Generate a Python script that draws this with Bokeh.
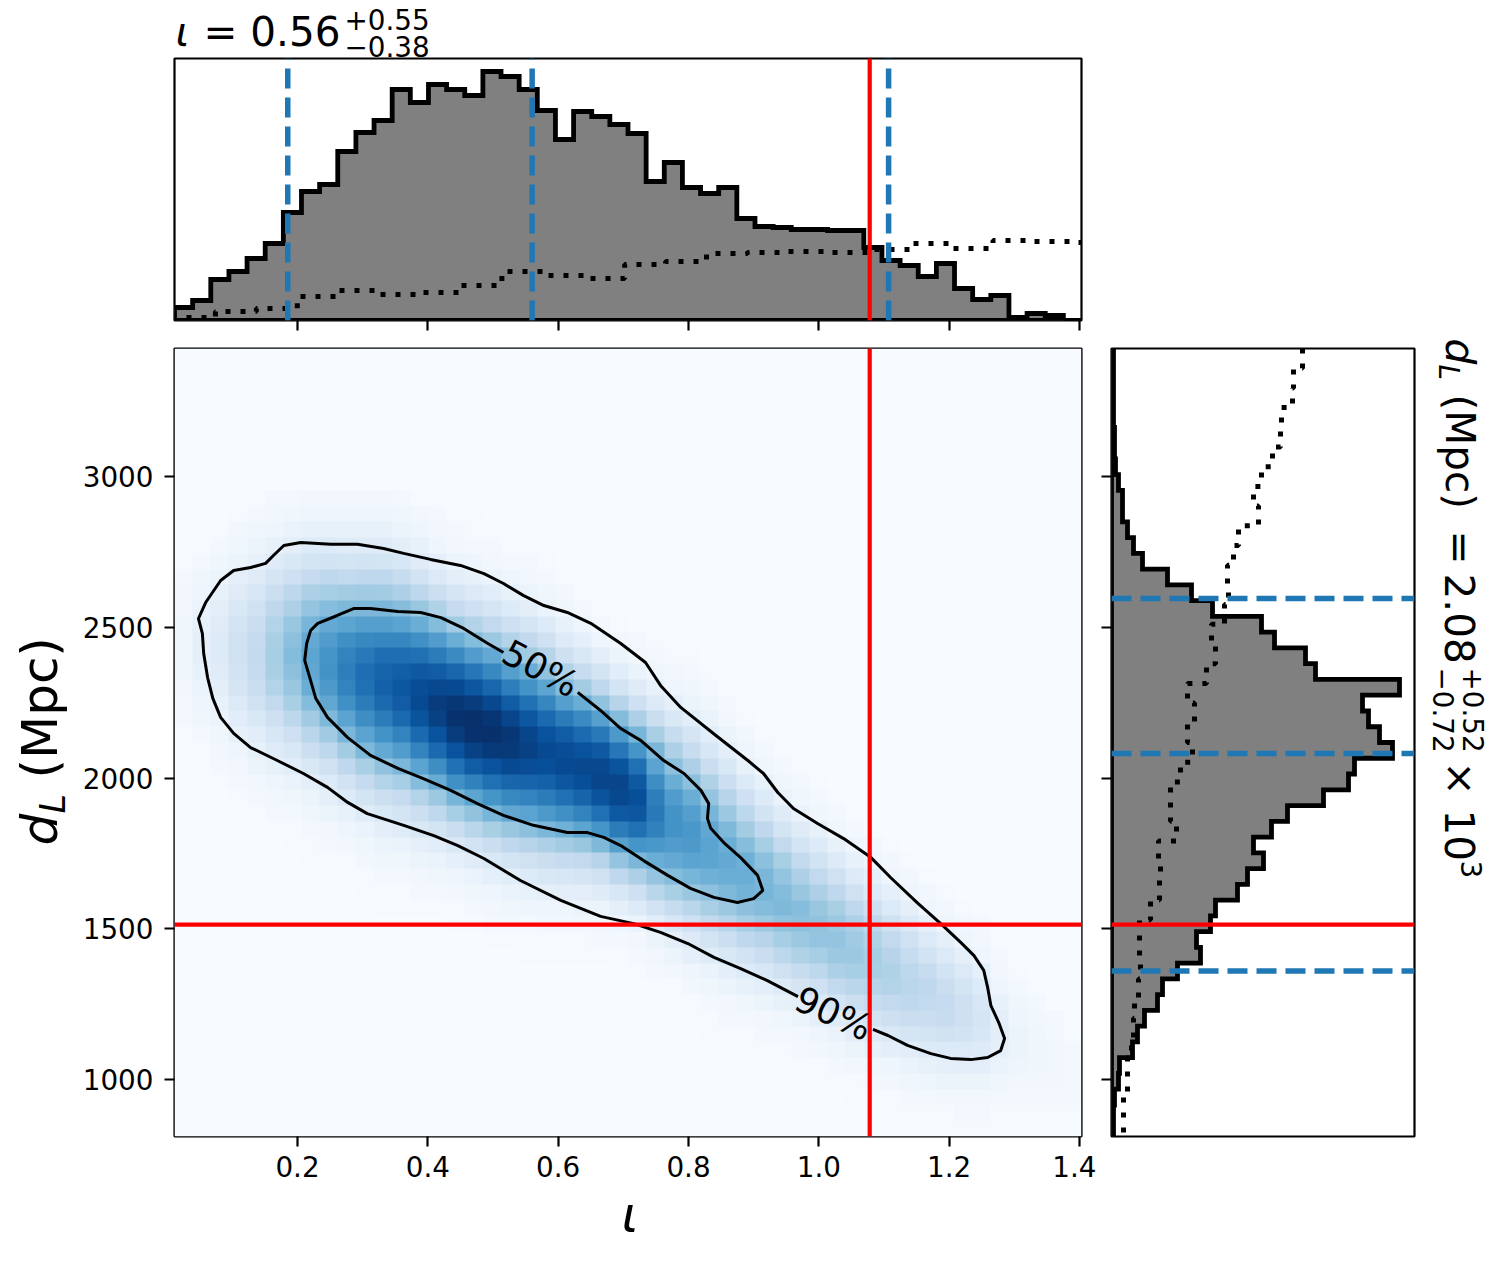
import numpy as np
from bokeh.embed import file_html
from bokeh.layouts import column, row
from bokeh.models import FixedTicker, Label, LinearColorMapper
from bokeh.palettes import Blues256
from bokeh.plotting import figure
from bokeh.resources import INLINE

# axis limits and ticks
iota_limits = (0.0112, 1.403)
dist_limits = (811.0, 3424.5)
iota_ticks = [0.2, 0.4, 0.6, 0.8, 1.0, 1.2, 1.4]
iota_tick_labels = ["0.2", "0.4", "0.6", "0.8", "1.0", "1.2", "1.4"]
dist_ticks = [1000, 1500, 2000, 2500, 3000]
dist_tick_labels = ["1000", "1500", "2000", "2500", "3000"]

# injected value and credible bounds
iota_true = 1.078
dist_true = 1514
iota_bounds = [0.185, 0.56, 1.107]
dist_bounds = [1360, 2081, 2595]

# iota histograms (heights)
iota_posterior = [13, 20, 41, 49, 62, 77, 108, 129, 136, 169, 188, 200, 231, 218, 236, 231, 225,
                  249, 244, 231, 210, 181, 209, 204, 196, 187, 139, 158, 133, 127, 133, 102, 94,
                  93, 91, 91, 90, 90, 73, 60, 55, 44, 57, 32, 21, 25, 3, 7, 5, 0]
iota_prior = [3, 9, 12, 24, 30, 26, 28, 35, 49, 45, 42, 56, 59, 67, 68, 69, 68, 71, 77, 72, 80, 79, 78]
iota_prior_width = 0.0628

# distance histograms, from the top of the axis downwards
dist_posterior = [2, 2, 2, 2, 2, 3, 3, 4, 7, 11, 11, 16, 22, 31, 56, 80, 101, 150, 163, 194, 204,
                  288, 251, 257, 268, 281, 243, 237, 212, 176, 160, 142, 152, 136, 126, 104, 99,
                  85, 89, 66, 51, 46, 33, 26, 21, 8, 7, 3, 2, 2]
dist_prior = [191, 182, 181, 170, 169, 161, 150, 142, 147, 127, 122, 116, 117, 113, 100, 104, 95,
              76, 83, 76, 81, 69, 59, 59, 65, 47, 49, 48, 39, 28, 28, 29, 27, 23, 22, 20, 16, 16, 12, 12]

# density map: (first row, values) per column, rows from the top of the axis downwards
density_rows = 50
density_columns = [
    (13, [1, 2, 3, 3, 4, 4, 4, 4, 3, 2, 2, 1, 1]),
    (12, [1, 2, 4, 5, 7, 8, 9, 9, 8, 7, 5, 4, 2, 1, 1]),
    (11, [1, 2, 4, 6, 8, 10, 12, 13, 13, 12, 10, 8, 6, 4, 3, 2, 1]),
    (10, [1, 3, 4, 6, 9, 12, 15, 18, 20, 20, 19, 17, 14, 11, 8, 5, 3, 2, 1]),
    (9, [1, 2, 4, 6, 8, 12, 16, 20, 23, 25, 26, 25, 23, 20, 15, 11, 8, 6, 3, 2, 1]),
    (9, [2, 3, 5, 8, 12, 17, 22, 27, 31, 34, 35, 34, 31, 26, 21, 16, 12, 8, 5, 3, 2, 1]),
    (9, [2, 4, 7, 10, 15, 21, 28, 33, 39, 42, 44, 42, 39, 34, 28, 21, 15, 11, 7, 4, 2, 1, 1]),
    (9, [3, 5, 8, 13, 18, 25, 33, 40, 47, 52, 54, 53, 50, 44, 37, 29, 22, 15, 10, 6, 4, 2, 1, 1]),
    (9, [3, 5, 8, 13, 19, 27, 35, 43, 52, 58, 61, 62, 59, 53, 45, 37, 28, 20, 14, 9, 6, 3, 2, 1]),
    (9, [3, 5, 8, 12, 18, 26, 36, 45, 54, 63, 68, 70, 68, 63, 55, 46, 36, 27, 19, 13, 8, 5, 3, 1, 1]),
    (9, [3, 5, 8, 12, 19, 27, 37, 46, 57, 66, 72, 76, 75, 71, 64, 55, 45, 34, 25, 18, 12, 7, 4, 3, 1, 1]),
    (9, [3, 5, 8, 12, 18, 27, 36, 46, 57, 67, 76, 80, 81, 78, 71, 62, 52, 41, 31, 22, 15, 10, 6, 4, 2, 1, 1]),
    (9, [2, 4, 6, 10, 16, 24, 33, 43, 55, 67, 76, 82, 85, 83, 78, 68, 58, 46, 35, 25, 18, 12, 7, 4, 2, 1, 1]),
    (9, [1, 3, 5, 8, 12, 19, 28, 39, 50, 63, 75, 84, 89, 90, 86, 78, 68, 55, 43, 31, 22, 15, 9, 6, 3, 2, 1]),
    (9, [1, 2, 3, 5, 9, 14, 22, 32, 44, 58, 71, 83, 91, 95, 93, 87, 78, 64, 51, 38, 27, 18, 11, 7, 4, 2, 1]),
    (10, [1, 2, 3, 6, 10, 17, 25, 37, 50, 65, 79, 90, 97, 99, 95, 87, 75, 63, 47, 35, 23, 15, 9, 5, 3, 1, 1]),
    (10, [1, 1, 2, 5, 8, 14, 21, 31, 44, 58, 73, 85, 95, 100, 99, 93, 83, 69, 54, 41, 29, 19, 12, 7, 4, 2, 1]),
    (11, [1, 2, 3, 6, 11, 17, 26, 38, 52, 66, 79, 91, 98, 100, 96, 87, 75, 61, 47, 34, 23, 15, 9, 5, 3, 2, 1]),
    (12, [1, 2, 5, 8, 13, 21, 31, 43, 57, 70, 83, 92, 97, 96, 90, 79, 66, 53, 39, 27, 18, 11, 7, 4, 2, 1]),
    (12, [1, 2, 3, 6, 10, 17, 26, 37, 50, 62, 75, 85, 92, 93, 89, 80, 68, 55, 42, 30, 20, 13, 8, 5, 2, 1, 1]),
    (13, [1, 2, 4, 7, 13, 20, 30, 41, 54, 67, 78, 87, 90, 88, 81, 71, 59, 46, 33, 23, 15, 9, 5, 3, 1, 1]),
    (14, [1, 3, 4, 8, 13, 21, 32, 44, 57, 71, 83, 89, 90, 85, 75, 63, 49, 36, 25, 16, 10, 5, 3, 1, 1]),
    (15, [1, 2, 5, 9, 15, 24, 36, 50, 65, 77, 87, 91, 88, 80, 68, 54, 39, 26, 17, 10, 6, 3, 1, 1]),
    (16, [1, 2, 5, 10, 18, 27, 41, 56, 72, 84, 91, 92, 86, 75, 61, 45, 30, 20, 12, 6, 3, 2, 1]),
    (17, [1, 3, 6, 11, 18, 30, 44, 59, 73, 86, 92, 91, 84, 71, 56, 40, 27, 16, 9, 5, 2, 1, 1]),
    (18, [2, 3, 7, 12, 21, 33, 47, 61, 75, 84, 88, 85, 75, 61, 46, 33, 21, 13, 7, 3, 2, 1]),
    (18, [1, 2, 4, 8, 14, 23, 34, 46, 55, 64, 70, 72, 69, 60, 50, 40, 29, 19, 11, 6, 3, 2, 1]),
    (19, [1, 3, 5, 9, 15, 24, 33, 42, 50, 58, 62, 62, 58, 52, 44, 34, 24, 16, 9, 6, 3, 1, 1]),
    (19, [1, 2, 4, 6, 11, 17, 24, 33, 42, 50, 57, 60, 59, 55, 47, 39, 29, 21, 14, 9, 5, 3, 1, 1]),
    (20, [1, 2, 4, 7, 11, 16, 23, 32, 40, 47, 53, 55, 54, 49, 42, 34, 26, 18, 12, 7, 4, 2, 1, 1]),
    (22, [2, 3, 6, 10, 15, 22, 30, 38, 45, 50, 52, 50, 45, 38, 30, 22, 15, 10, 6, 3, 2, 1, 1]),
    (23, [1, 3, 5, 8, 14, 21, 28, 36, 43, 49, 50, 48, 42, 35, 27, 19, 13, 8, 4, 2, 1, 1]),
    (24, [1, 2, 4, 8, 13, 19, 27, 35, 42, 46, 47, 44, 38, 30, 23, 16, 10, 6, 3, 2, 1, 1]),
    (25, [1, 2, 4, 7, 12, 18, 26, 34, 40, 44, 45, 41, 35, 28, 20, 13, 8, 4, 2, 1, 1]),
    (26, [1, 2, 4, 7, 12, 18, 26, 33, 39, 43, 42, 38, 32, 24, 17, 10, 6, 3, 2, 1]),
    (27, [1, 2, 4, 8, 13, 19, 26, 33, 39, 41, 40, 35, 28, 21, 14, 9, 5, 3, 1, 1]),
    (28, [1, 2, 4, 8, 13, 20, 27, 34, 38, 40, 38, 33, 26, 18, 12, 7, 4, 2, 1]),
    (29, [1, 2, 5, 8, 13, 20, 27, 33, 37, 38, 35, 29, 22, 15, 10, 6, 3, 1, 1]),
    (30, [1, 3, 5, 9, 14, 21, 27, 32, 35, 34, 30, 25, 18, 12, 8, 4, 2, 1]),
    (31, [1, 3, 5, 9, 14, 20, 26, 30, 32, 31, 26, 21, 15, 10, 5, 3, 1, 1]),
    (32, [1, 3, 5, 9, 14, 20, 24, 28, 29, 27, 23, 17, 11, 7, 4, 2, 1]),
    (33, [1, 3, 5, 9, 14, 19, 24, 27, 26, 23, 18, 13, 8, 5, 2, 1]),
    (34, [1, 3, 5, 9, 14, 19, 23, 25, 24, 20, 14, 9, 6, 3, 1, 1]),
    (35, [1, 3, 5, 9, 14, 18, 21, 21, 19, 14, 10, 6, 3, 2, 1]),
    (36, [2, 3, 5, 9, 13, 16, 17, 16, 13, 10, 6, 3, 2, 1]),
    (37, [1, 2, 3, 5, 8, 10, 10, 9, 7, 4, 2, 1, 1]),
    (39, [1, 2, 4, 5, 6, 6, 5, 3, 2, 1, 1]),
    (40, [1, 2, 3, 4, 4, 4, 3, 2, 1, 1]),
    (42, [2, 2, 3, 3, 3, 2, 1, 1]),
    (43, [1, 2, 2, 2, 2, 1, 1]),
]

# contours, open at the gaps left for their labels
contour50_iota = [0.516, 0.492, 0.455, 0.420, 0.389, 0.354, 0.312, 0.286, 0.261, 0.231, 0.220, 0.214,
                  0.211, 0.220, 0.228, 0.246, 0.277, 0.312, 0.354, 0.393, 0.435, 0.476, 0.516, 0.562,
                  0.614, 0.645, 0.670, 0.696, 0.731, 0.768, 0.803, 0.839, 0.875, 0.900, 0.914, 0.906,
                  0.880, 0.854, 0.834, 0.829, 0.831, 0.819, 0.793, 0.762, 0.727, 0.696, 0.665, 0.630]
contour50_dist = [2416, 2446, 2496, 2532, 2549, 2552, 2562, 2562, 2539, 2513, 2489, 2446,
                  2390, 2324, 2264, 2201, 2134, 2075, 2032, 1998, 1959, 1915, 1876, 1843,
                  1819, 1819, 1803, 1776, 1726, 1677, 1634, 1604, 1587, 1600, 1627, 1677,
                  1736, 1786, 1833, 1866, 1915, 1959, 2015, 2058, 2124, 2164, 2224, 2284]
contour90_iota = [0.968, 0.921, 0.880, 0.839, 0.799, 0.757, 0.716, 0.665, 0.604, 0.542, 0.486, 0.446,
                  0.409, 0.363, 0.307, 0.277, 0.246, 0.209, 0.169, 0.128, 0.102, 0.082, 0.070, 0.062,
                  0.056, 0.054, 0.048, 0.059, 0.082, 0.102, 0.128, 0.151, 0.163, 0.179, 0.205, 0.251,
                  0.292, 0.332, 0.363, 0.404, 0.450, 0.486, 0.516, 0.547, 0.578, 0.614, 0.650, 0.696,
                  0.734, 0.757, 0.788, 0.842, 0.891, 0.915, 0.937, 0.961, 0.998, 1.038, 1.080, 1.110,
                  1.152, 1.187, 1.218, 1.238, 1.253, 1.259, 1.264, 1.276, 1.285, 1.279, 1.259, 1.233,
                  1.202, 1.172, 1.136, 1.106, 1.083]
contour90_dist = [1275, 1328, 1368, 1405, 1451, 1488, 1517, 1541, 1594, 1660, 1733, 1776,
                  1809, 1843, 1882, 1919, 1969, 2015, 2058, 2101, 2148, 2201, 2264, 2333,
                  2413, 2479, 2529, 2582, 2655, 2688, 2698, 2712, 2738, 2771, 2781, 2775,
                  2775, 2761, 2745, 2725, 2705, 2678, 2645, 2605, 2572, 2549, 2513, 2446,
                  2383, 2307, 2234, 2141, 2058, 2015, 1952, 1899, 1849, 1799, 1736, 1670,
                  1584, 1517, 1454, 1411, 1362, 1305, 1245, 1189, 1136, 1096, 1073, 1066,
                  1070, 1086, 1113, 1146, 1166]

# ---- construction ----
HIST_GREY = "#808080"
BLUE = "#1f77b4"
FONT = "DejaVu Sans"
FRAME_W = 2.2
HIST_W = 4.8
PAGE_W, PAGE_H = 1496, 1250


def style_frame(fig):
    fig.outline_line_color = "black"
    fig.outline_line_width = FRAME_W
    fig.outline_line_alpha = 1
    fig.grid.visible = False


def style_axis(axis, ticks, labels, show_labels=True, standoff=9):
    axis.ticker = FixedTicker(ticks=ticks)
    axis.minor_tick_line_color = None
    axis.axis_line_color = None
    axis.major_tick_line_color = "black"
    axis.major_tick_line_width = FRAME_W
    axis.major_tick_in = 0
    axis.major_tick_out = 10
    axis.major_label_standoff = standoff
    axis.major_label_text_font = FONT
    axis.major_label_text_font_size = "27.8px"
    axis.major_label_text_color = "black"
    axis.major_label_overrides = {float(t): (l if show_labels else "") for t, l in zip(ticks, labels)}


def steps(edges, values):
    return np.repeat(edges, 2)[1:-1], np.repeat(values, 2)


# top panel
top = figure(width=1096, height=334, x_range=iota_limits, y_range=(0, 262), output_backend="svg",
             toolbar_location=None, min_border_left=174, min_border_right=15, min_border_top=58,
             min_border_bottom=14)
style_frame(top)
top.yaxis.visible = False
style_axis(top.xaxis[0], iota_ticks, iota_tick_labels, show_labels=False)
iota_edges = np.linspace(iota_limits[0], iota_limits[1], len(iota_posterior) + 1)
sx, sy = steps(iota_edges, iota_posterior)
top.patch(np.r_[iota_edges[0], sx, iota_edges[-1], iota_edges[0]], np.r_[0, sy, 0, 0],
          fill_color=HIST_GREY, line_color="black", line_width=HIST_W, line_join="miter")
prior_edges = iota_limits[0] + iota_prior_width * np.arange(len(iota_prior) + 1)
sx, sy = steps(prior_edges, iota_prior)
top.line(np.r_[prior_edges[0], sx], np.r_[0, sy], line_color="black", line_width=5, line_dash=[5, 10])
for v in iota_bounds:
    top.line([v, v], [0, 262], line_color=BLUE, line_width=5.5, line_dash=[20, 9])
top.line([iota_true, iota_true], [0, 262], line_color="red", line_width=4.2)

# main panel
main = figure(width=1096, height=902, x_range=iota_limits, y_range=dist_limits, output_backend="svg",
              toolbar_location=None, min_border_left=174, min_border_right=15, min_border_top=14,
              min_border_bottom=100, background_fill_color="#f7fbff")
style_frame(main)
style_axis(main.xaxis[0], iota_ticks, iota_tick_labels)
style_axis(main.yaxis[0], dist_ticks, dist_tick_labels, standoff=11)
density = np.zeros((density_rows, len(density_columns)))
for c, (start, vals) in enumerate(density_columns):
    density[start:start + len(vals), c] = vals
mapper = LinearColorMapper(palette=list(Blues256)[::-1], low=0, high=100)
main.image(image=[density[::-1]], x=iota_limits[0], y=dist_limits[0], dw=iota_limits[1] - iota_limits[0],
           dh=dist_limits[1] - dist_limits[0], color_mapper=mapper)
main.line(contour50_iota, contour50_dist, line_color="black", line_width=3)
main.line(contour90_iota, contour90_dist, line_color="black", line_width=3)
main.line([iota_true, iota_true], dist_limits, line_color="red", line_width=4.2)
main.line(iota_limits, [dist_true, dist_true], line_color="red", line_width=4.2)

# side panel
side = figure(width=388, height=902, x_range=(0, 303), y_range=dist_limits, output_backend="svg",
              toolbar_location=None, min_border_left=15, min_border_right=70, min_border_top=14,
              min_border_bottom=100)
style_frame(side)
side.xaxis.visible = False
style_axis(side.yaxis[0], dist_ticks, dist_tick_labels, show_labels=False)
dist_edges = np.linspace(dist_limits[1], dist_limits[0], len(dist_posterior) + 1)
sy, sx = steps(dist_edges, dist_posterior)
side.patch(np.r_[0, sx, 0, 0], np.r_[dist_edges[0], sy, dist_edges[-1], dist_edges[0]],
           fill_color=HIST_GREY, line_color="black", line_width=HIST_W, line_join="miter")
dist_prior_edges = np.linspace(dist_limits[1], dist_limits[0], len(dist_prior) + 1)
sy, sx = steps(dist_prior_edges, dist_prior)
side.line(sx, sy, line_color="black", line_width=5, line_dash=[5, 10])
for v in dist_bounds:
    side.line([0, 303], [v, v], line_color=BLUE, line_width=5.5, line_dash=[20, 9])
side.line([0, 303], [dist_true, dist_true], line_color="red", line_width=4.2)

# transparent sheet over the whole page that carries the free texts
sheet = figure(width=PAGE_W, height=PAGE_H, x_range=(0, PAGE_W), y_range=(PAGE_H, 0), output_backend="svg",
               toolbar_location=None, min_border=0, background_fill_color=None, border_fill_color=None,
               outline_line_color=None, margin=(-(334 + 902), 0, 0, 0))
sheet.axis.visible = False
sheet.grid.visible = False

BASELINE_SHIFT = 0.4  # em; the anchor of a text sits this far above the glyph baseline on this page


def label(px, py, text, size, angle=0.0, style="normal", align="left", baseline="alphabetic"):
    if baseline == "alphabetic":
        px -= BASELINE_SHIFT * size * np.sin(angle)
        py -= BASELINE_SHIFT * size * np.cos(angle)
    sheet.add_layout(Label(x=px, y=py, x_units="canvas", y_units="canvas",
                           text=text, text_font=FONT, text_font_size=f"{size}px", text_font_style=style,
                           text_color="black", angle=angle, angle_units="rad",
                           text_align=align, text_baseline=baseline))


label(175, 48, "ι", 40.5, style="italic")
label(203, 48, "= 0.56", 40.5)
label(344, 30, "+0.55", 27.8)
label(344, 57, "−0.38", 27.8)
label(540, 668, "50%", 36, angle=-0.49, align="center", baseline="middle")
label(833, 1013, "90%", 36, angle=-0.43, align="center", baseline="middle")
label(621, 1234, "ι", 50, style="italic")
label(59, 845, "d", 50, angle=np.pi / 2, style="italic")
label(66, 813, "L", 35, angle=np.pi / 2, style="italic")
label(59, 778, "(Mpc)", 50, angle=np.pi / 2)
ROT = -np.pi / 2
label(1443, 338, "d", 40.5, angle=ROT, style="italic")
label(1437, 364, "L", 27.8, angle=ROT, style="italic")
label(1443, 394, "(Mpc)", 40.5, angle=ROT)
label(1443, 530, "=", 40.5, angle=ROT)
label(1443, 573, "2.08", 40.5, angle=ROT)
label(1462, 667, "+0.52", 27.8, angle=ROT)
label(1432, 667, "−0.72", 27.8, angle=ROT)
label(1443, 761, "×", 40.5, angle=ROT)
label(1443, 809, "10", 40.5, angle=ROT)
label(1460, 860, "3", 27.8, angle=ROT)

panels = column(top, row(main, side, spacing=0), spacing=0)
page = column(panels, sheet, spacing=0)
open("out.html", "w").write(file_html(page, INLINE))
